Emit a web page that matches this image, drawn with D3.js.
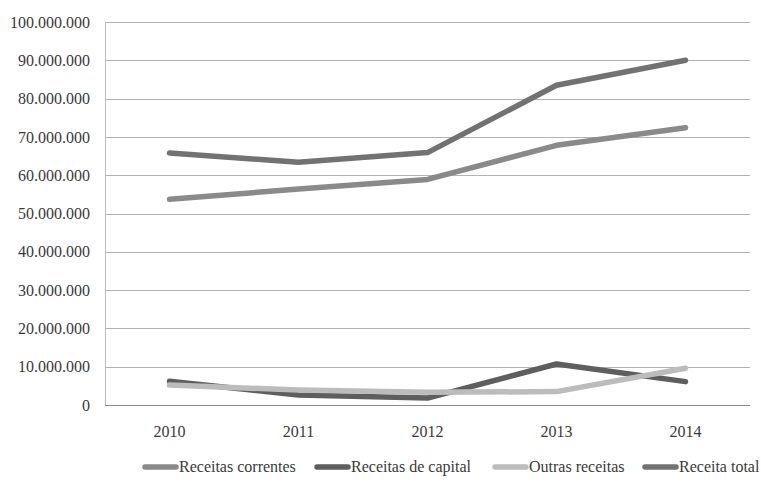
<!DOCTYPE html>
<html>
<head>
<meta charset="utf-8">
<script src="https://cdn.jsdelivr.net/npm/d3@7"></script>
<style>
  html, body { margin: 0; padding: 0; background: #fff; }
  svg { display: block; }
  svg text { font-family: 'Liberation Serif', 'Times New Roman', Times, Tinos, 'DejaVu Serif', serif !important; fill: #3a3a3a; }
</style>
</head>
<body>
<svg id="chart" width="761" height="487"></svg>
<script>
const years = ["2010", "2011", "2012", "2013", "2014"];
const receitasCorrentes = [53700000, 56400000, 58900000, 67800000, 72400000];
const receitasCapital   = [6200000, 2600000, 1800000, 10700000, 6100000];
const outrasReceitas    = [5200000, 3900000, 3300000, 3500000, 9600000];
const receitaTotal      = [65800000, 63400000, 65900000, 83500000, 90000000];
const yTicks = [0, 10000000, 20000000, 30000000, 40000000, 50000000, 60000000, 70000000, 80000000, 90000000, 100000000];
const seriesNames = ["Receitas correntes", "Receitas de capital", "Outras receitas", "Receita total"];
const seriesColors = ["#8a8a8a", "#5e5e5e", "#bcbcbc", "#727272"];

const series = [receitasCorrentes, receitasCapital, outrasReceitas, receitaTotal];

const svg = d3.select("#chart");
const margin = { left: 105, right: 11, top: 22, bottom: 82 };
const W = 761, H = 487;
const FONT = "'Liberation Serif', 'Times New Roman', Times, Tinos, 'DejaVu Serif', serif";

const x = d3.scaleBand().domain(years).range([margin.left, W - margin.right]);
const y = d3.scaleLinear().domain([0, 100000000]).range([H - margin.bottom, margin.top]);

const fmt = v => d3.format(",")(v).replace(/,/g, ".");

// gridlines
svg.append("g")
  .selectAll("line")
  .data(yTicks.filter(d => d > 0))
  .join("line")
  .attr("x1", margin.left).attr("x2", W - margin.right)
  .attr("y1", d => Math.round(y(d)) + 0.5).attr("y2", d => Math.round(y(d)) + 0.5)
  .attr("stroke", "#b4b4b4").attr("stroke-width", 1);

// y axis
const yAxis = svg.append("g")
  .attr("transform", `translate(${margin.left},0)`)
  .call(d3.axisLeft(y).tickValues(yTicks).tickFormat(fmt).tickSize(0).tickPadding(15))
  .attr("font-family", FONT);
yAxis.select(".domain").attr("stroke", "#bcbcbc");
yAxis.selectAll("text").style("font-size", "16px").attr("fill", "#3a3a3a");

// x axis
const xAxis = svg.append("g")
  .attr("transform", `translate(0,${Math.round(y(0)) + 0.5})`)
  .call(d3.axisBottom(x).tickSize(0).tickPadding(20))
  .attr("font-family", FONT);
xAxis.select(".domain").attr("stroke", "#8a8a8a").attr("d", `M${margin.left},0H${W - margin.right}`);
xAxis.selectAll("text").style("font-size", "16px").attr("fill", "#3a3a3a");

// lines
const line = d3.line()
  .x((d, i) => x(years[i]) + x.bandwidth() / 2)
  .y(d => y(d));

svg.append("g")
  .selectAll("path")
  .data(series)
  .join("path")
  .attr("d", d => line(d))
  .attr("fill", "none")
  .attr("stroke", (d, i) => seriesColors[i])
  .attr("stroke-width", 5.5)
  .attr("stroke-linecap", "round")
  .attr("stroke-linejoin", "round");

// legend
const legendX = [145, 317, 495, 645];
const legendY = 472;
const lg = svg.append("g").attr("font-family", FONT);
seriesNames.forEach((name, i) => {
  lg.append("line")
    .attr("x1", legendX[i]).attr("x2", legendX[i] + 31)
    .attr("y1", legendY - 5).attr("y2", legendY - 5)
    .attr("stroke", seriesColors[i]).attr("stroke-width", 5.5).attr("stroke-linecap", "round");
  lg.append("text")
    .attr("x", legendX[i] + 34).attr("y", legendY)
    .style("font-size", "16px")
    .text(name);
});
</script>
</body>
</html>
